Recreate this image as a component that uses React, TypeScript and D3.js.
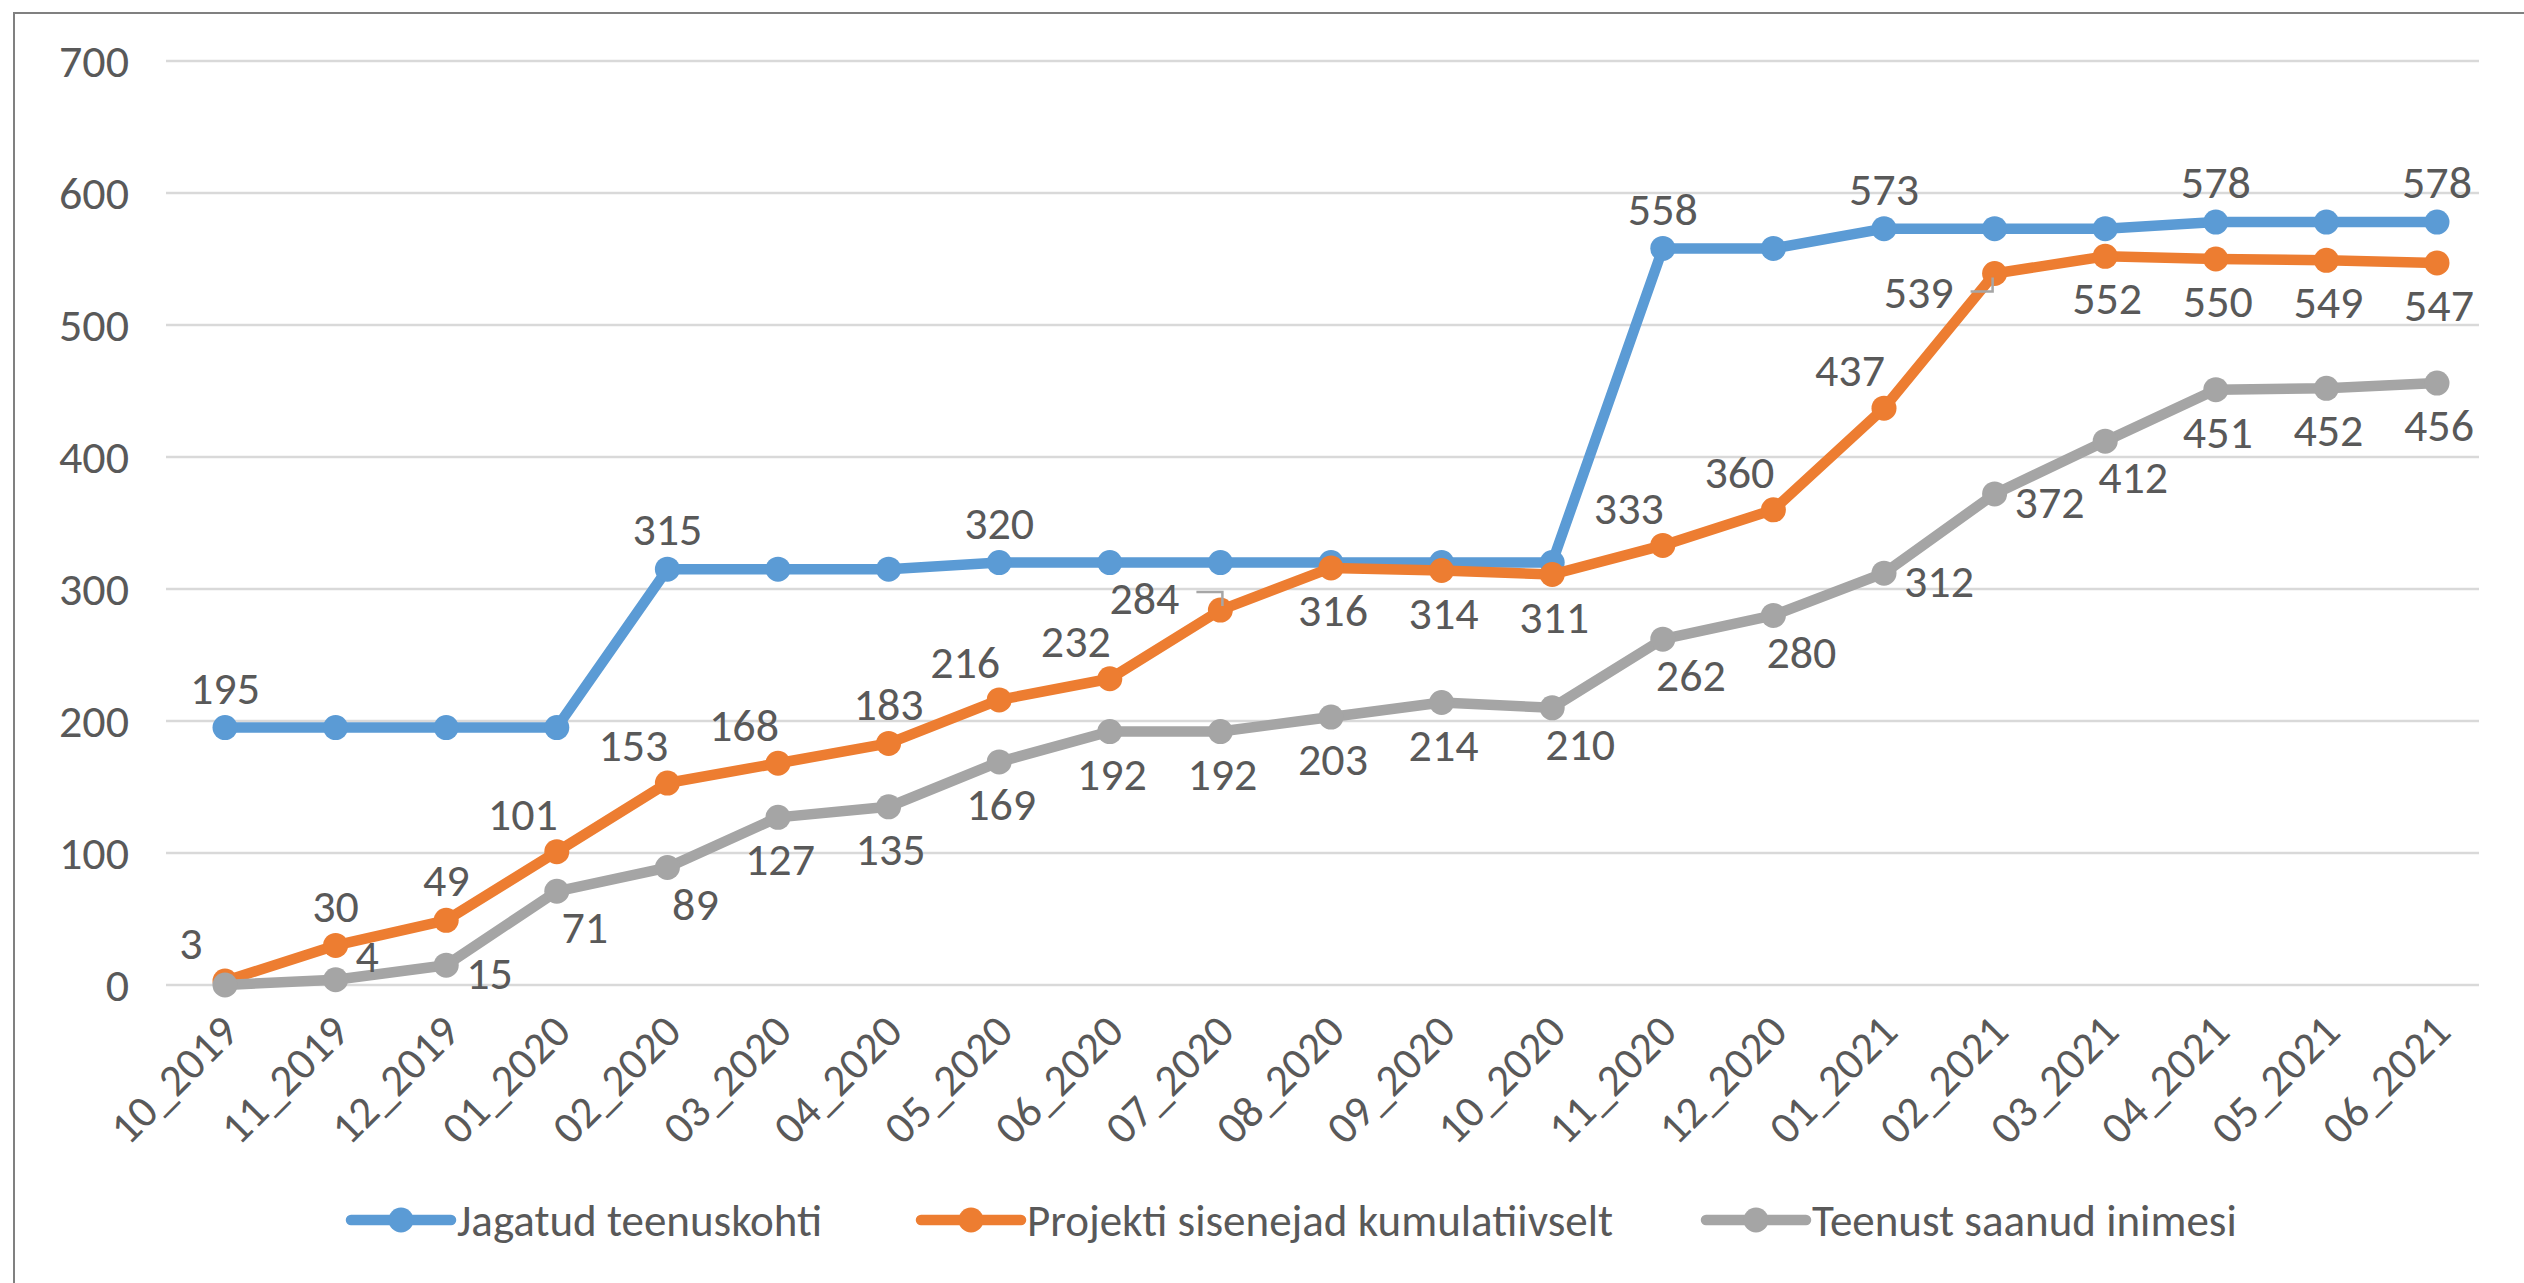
import React from 'react';
import * as d3 from 'd3';

const months = [
  '10_2019', '11_2019', '12_2019', '01_2020', '02_2020', '03_2020', '04_2020',
  '05_2020', '06_2020', '07_2020', '08_2020', '09_2020', '10_2020', '11_2020',
  '12_2020', '01_2021', '02_2021', '03_2021', '04_2021', '05_2021', '06_2021',
];

const jagatudTeenuskohti = [
  195, 195, 195, 195, 315, 315, 315, 320, 320, 320, 320, 320, 320, 558, 558,
  573, 573, 573, 578, 578, 578,
];
const projektiSisenejad = [
  3, 30, 49, 101, 153, 168, 183, 216, 232, 284, 316, 314, 311, 333, 360, 437,
  539, 552, 550, 549, 547,
];
const teenustSaanud = [
  0, 4, 15, 71, 89, 127, 135, 169, 192, 192, 203, 214, 210, 262, 280, 312, 372,
  412, 451, 452, 456,
];

const seriesNames = [
  'Jagatud teenuskohti',
  'Projekti sisenejad kumulatiivselt',
  'Teenust saanud inimesi',
];

const yTicks = [0, 100, 200, 300, 400, 500, 600, 700];

// where each data label sits relative to its point ('' = no label)
const jagatudLabelPos = [
  'above', '', '', '', 'above', '', '', 'above', '', '', '', '', '', 'above', '',
  'above', '', '', 'above', '', 'above',
];
const sisenejadLabelPos = [
  'aboveLeft', 'above', 'above', 'aboveLeft', 'aboveLeft', 'aboveLeft', 'above',
  'aboveLeft', 'aboveLeft', 'leaderUp', 'below', 'below', 'below', 'aboveLeft',
  'aboveLeft', 'aboveLeft', 'leaderDown', 'below', 'below', 'below', 'below',
];
const teenustLabelPos = [
  '', 'rightUp', 'right', 'belowRight', 'belowRight', 'below', 'below', 'below',
  'below', 'below', 'below', 'below', 'belowRight', 'belowRight', 'belowRight',
  'right', 'right', 'belowRight', 'below', 'below', 'below',
];

const colors = ['#5B9BD5', '#ED7D31', '#A5A5A5'];
const textColor = '#595959';
const font = "Carlito, 'Liberation Sans Narrow', 'DejaVu Sans Condensed', sans-serif";

const offsets: Record<string, { dx: number; dy: number; anchor: string }> = {
  above: { dx: 0, dy: -40, anchor: 'middle' },
  aboveLeft: { dx: -34, dy: -38, anchor: 'middle' },
  below: { dx: 2, dy: 42, anchor: 'middle' },
  belowRight: { dx: 28, dy: 36, anchor: 'middle' },
  right: { dx: 20, dy: 8, anchor: 'start' },
  rightUp: { dx: 20, dy: -24, anchor: 'start' },
  leaderUp: { dx: -41, dy: -12, anchor: 'end' },
  leaderDown: { dx: -41, dy: 18, anchor: 'end' },
};

export default function App() {
  const width = 2524;
  const height = 1283;

  const x = d3.scalePoint<string>().domain(months).range([225, 2437]);
  const y = d3.scaleLinear().domain([0, 700]).range([985, 61]);

  const line = d3
    .line<number>()
    .x((d, i) => x(months[i]) as number)
    .y((d) => y(d));

  const series = [
    { name: seriesNames[0], values: jagatudTeenuskohti, pos: jagatudLabelPos, color: colors[0] },
    { name: seriesNames[1], values: projektiSisenejad, pos: sisenejadLabelPos, color: colors[1] },
    { name: seriesNames[2], values: teenustSaanud, pos: teenustLabelPos, color: colors[2] },
  ];

  const legendX = [351, 921, 1706];

  return (
    <svg
      width={width}
      height={height}
      style={{ position: 'absolute', left: 0, top: 0, background: '#fff' }}
      fontFamily={font}
    >
      <rect x={0} y={0} width={width} height={height} fill="#fff" />
      <rect x={14} y={13} width={width + 20} height={height + 20} fill="none" stroke="#808080" strokeWidth={2} />

      {yTicks.map((t) => (
        <g key={t}>
          <line x1={166} x2={2479} y1={y(t)} y2={y(t)} stroke="#D9D9D9" strokeWidth={2.5} />
          <text x={129} y={y(t)} dy="0.35em" textAnchor="end" fontSize={46} fill={textColor}>
            {t}
          </text>
        </g>
      ))}

      {months.map((m) => (
        <text
          key={m}
          transform={`translate(${(x(m) as number) + 16},${1034}) rotate(-45)`}
          textAnchor="end"
          fontSize={45}
          fill={textColor}
        >
          {m}
        </text>
      ))}

      {series.map((s) => (
        <g key={s.name}>
          <path d={line(s.values) || ''} fill="none" stroke={s.color} strokeWidth={10.5} strokeLinejoin="round" />
          {s.values.map((v, i) => (
            <circle key={i} cx={x(months[i]) as number} cy={y(v)} r={12.5} fill={s.color} />
          ))}
        </g>
      ))}

      {series.map((s) =>
        s.values.map((v, i) => {
          const p = s.pos[i];
          if (!p) return null;
          const o = offsets[p];
          const px = x(months[i]) as number;
          const py = y(v);
          const lx = px + o.dx;
          const ly = py + o.dy;
          const up = p === 'leaderUp';
          return (
            <g key={`${s.name}-${i}`}>
              {p.startsWith('leader') && (
                <polyline
                  points={`${px - 24},${up ? py - 18 : py + 18} ${px + (up ? 2 : -2)},${up ? py - 18 : py + 18} ${px + (up ? 2 : -2)},${up ? py - 4 : py + 4}`}
                  fill="none"
                  stroke="#A6A6A6"
                  strokeWidth={2.5}
                />
              )}
              <text x={lx} y={ly} dy="0.35em" textAnchor={o.anchor} fontSize={46} fill={textColor}>
                {v}
              </text>
            </g>
          );
        }),
      )}

      {series.map((s, i) => (
        <g key={`legend-${s.name}`} transform={`translate(${legendX[i]},1220)`}>
          <line x1={0} x2={100} y1={0} y2={0} stroke={s.color} strokeWidth={10.5} strokeLinecap="round" />
          <circle cx={50} cy={0} r={12.5} fill={s.color} />
          <text x={106} y={0} dy="0.35em" fontSize={45} fill={textColor}>
            {s.name}
          </text>
        </g>
      ))}
    </svg>
  );
}
